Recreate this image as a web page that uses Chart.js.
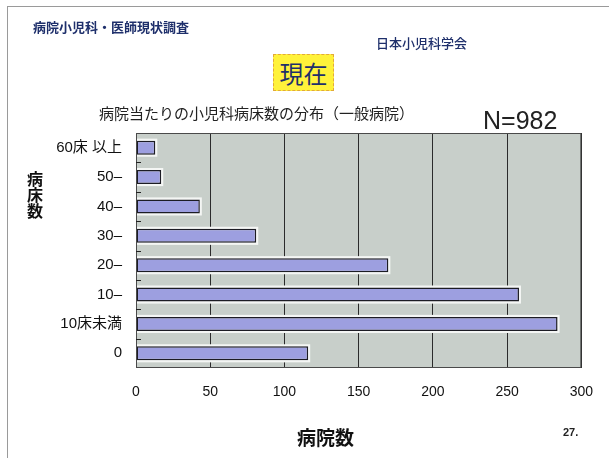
<!DOCTYPE html>
<html lang="ja">
<head>
<meta charset="utf-8">
<script src="https://cdn.jsdelivr.net/npm/chart.js@4.4.1/dist/chart.umd.min.js"></script>
<style>
  html, body { margin: 0; padding: 0; background: #fff; }
  body { width: 609px; height: 458px; position: relative; overflow: hidden;
         font-family: "Liberation Sans", "Noto Sans CJK JP", sans-serif; }
  #frame { position: absolute; left: 7px; top: 6px; width: 700px; height: 500px;
           border-left: 1px solid #9a9a9a; border-top: 1px solid #9a9a9a; }
  .txt { position: absolute; white-space: nowrap; font-family: "Noto Sans CJK JP", sans-serif; }
  #survey { left: 33px; top: 17px; font-size: 13px; color: #1e2f6b; font-weight: 700; }
  #society { left: 376px; top: 33px; font-size: 13px; color: #1e2f6b; font-weight: 500; }
  #now { left: 273px; top: 54px; width: 59px; height: 35px; background: #fff23a;
         border: 1px dashed #e2a93a; font-size: 24px; color: #1e2f6b;
         text-align: center; line-height: 35px; }
  #subtitle { left: 99px; top: 102px; font-size: 15px; color: #222; }
  #count { left: 483px; top: 106px; font-size: 25px; color: #222;
           font-family: "Liberation Sans", sans-serif; }
  #ytitle { left: 26px; top: 170px; width: 18px; font-size: 16px; line-height: 16px;
            font-weight: 700; color: #111; white-space: normal; text-align: center; }
  #xtitle { left: 297px; top: 423px; font-size: 19px; font-weight: 700; color: #111; }
  #page { left: 563px; top: 426px; font-size: 11px; font-weight: 700; color: #222;
          font-family: "Liberation Sans", sans-serif; }
  canvas { position: absolute; left: 0; top: 0; }
</style>
</head>
<body>
<div id="frame"></div>
<canvas id="bedChart" width="609" height="458"></canvas>
<div class="txt" id="survey">病院小児科・医師現状調査</div>
<div class="txt" id="society">日本小児科学会</div>
<div class="txt" id="now">現在</div>
<div class="txt" id="subtitle">病院当たりの小児科病床数の分布（一般病院）</div>
<div class="txt" id="count">N=982</div>
<div class="txt" id="ytitle">病<br>床<br>数</div>
<div class="txt" id="xtitle">病院数</div>
<div class="txt" id="page">27.</div>

<script>
// 病床数区分（上から順）と病院数
const bedLabels = ['60床 以上', '50–', '40–', '30–', '20–', '10–', '10床未満', '0'];
const hospitalCounts = [13, 17, 43, 81, 170, 258, 284, 116];
const xTicks = [0, 50, 100, 150, 200, 250, 300];

const plotBg = '#c8cfca';
const barFill = '#9d9fe0';
const barEdge = '#1c1c24';

// plot area background + frame
const plotFrame = {
  id: 'plotFrame',
  beforeDraw(chart) {
    const { ctx, chartArea: a } = chart;
    ctx.save();
    ctx.fillStyle = plotBg;
    ctx.fillRect(a.left, a.top, a.right - a.left, a.bottom - a.top);
    ctx.restore();
  },
  afterDraw(chart) {
    const { ctx, chartArea: a } = chart;
    ctx.save();
    ctx.strokeStyle = '#4a4a4a';
    ctx.lineWidth = 1;
    ctx.strokeRect(a.left + 0.5, a.top + 0.5, a.right - a.left - 1, a.bottom - a.top - 1);
    // short tick marks between categories, pointing inward
    const y = chart.scales.y;
    ctx.strokeStyle = '#222';
    for (let i = 0; i < bedLabels.length - 1; i++) {
      const py = Math.round((y.getPixelForValue(i) + y.getPixelForValue(i + 1)) / 2) + 0.5;
      ctx.beginPath();
      ctx.moveTo(a.left, py);
      ctx.lineTo(a.left + 5, py);
      ctx.stroke();
    }
    ctx.restore();
  }
};

// light halo around each bar
const barHalo = {
  id: 'barHalo',
  beforeDatasetsDraw(chart) {
    const { ctx } = chart;
    ctx.save();
    ctx.fillStyle = '#f4f6f4';
    chart.getDatasetMeta(0).data.forEach(bar => {
      const top = bar.y - bar.height / 2;
      ctx.fillRect(bar.base, top - 2, bar.x - bar.base + 2, bar.height + 4);
    });
    ctx.restore();
  }
};

new Chart(document.getElementById('bedChart'), {
  type: 'bar',
  data: {
    labels: bedLabels,
    datasets: [{
      data: hospitalCounts,
      backgroundColor: barFill,
      borderColor: barEdge,
      borderWidth: 1.5,
      borderSkipped: false,
      barPercentage: 0.48,
      categoryPercentage: 1
    }]
  },
  options: {
    indexAxis: 'y',
    responsive: false,
    animation: false,
    layout: { padding: { top: 133, right: 26, left: 0, bottom: 0 } },
    plugins: {
      legend: { display: false },
      tooltip: { enabled: false }
    },
    scales: {
      x: {
        min: 0,
        max: 300,
        afterFit: s => { s.height = 90; },
        afterBuildTicks: s => { s.ticks = xTicks.map(v => ({ value: v })); },
        grid: { color: '#2b2b2b', lineWidth: 1, drawTicks: false },
        border: { display: false },
        ticks: {
          padding: 16,
          color: '#111',
          font: { family: 'Liberation Sans', size: 14 }
        }
      },
      y: {
        afterFit: s => { s.width = 136; },
        grid: { display: false },
        border: { display: false },
        ticks: {
          padding: 6,
          color: '#111',
          font: { family: "'Liberation Sans', 'Noto Sans CJK JP'", size: 15 }
        }
      }
    }
  },
  plugins: [plotFrame, barHalo]
});
</script>
</body>
</html>
